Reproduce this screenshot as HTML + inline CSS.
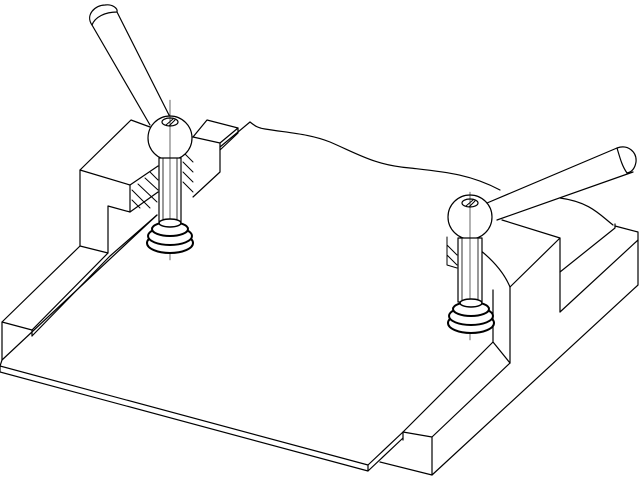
<!DOCTYPE html>
<html><head><style>html,body{margin:0;padding:0;background:#fff;width:640px;height:480px;overflow:hidden}</style></head>
<body>
<svg width="640" height="480" viewBox="0 0 640 480" xmlns="http://www.w3.org/2000/svg" fill="none" stroke="#000" stroke-width="1.2" stroke-linejoin="round" stroke-linecap="round">
<!-- sheet -->
<path d="M250,122 C255,126 258,128 265,129 C290,133 310,134 330,142 C360,155 375,165 410,168 C445,172 470,174 500,190" />
<path d="M560,198 C590,202 600,215 613,225" />
<path d="M250,122 L220,147" />
<path d="M157,215 L2,360 L0,366 L368,465 L368,471 L0,372 L0,366" />
<path d="M368,465 L403,432 L493,342" />
<path d="M368,471 L403,438" />
<!-- left block -->
<path d="M80,170 L131,120 L150,127" />
<path d="M80,170 L130,185 L130,212 L108,206 L108,253 L80,246 Z" />
<path d="M130,185 L158,166" />
<path d="M130,212 L158,192" />
<path d="M80,246 L2,322 L32,330 L108,253" />
<path d="M2,322 L2,360" />
<path d="M32,330 L32,336" />
<path d="M32,336 L110,256 L157,215" />
<!-- hatch left -->
<path d="M132,190 L150,208 M138,184 L157,202 M145,178 L158,190 M132,200 L140,208 M150,172 L158,180" stroke-width="1"/>
<!-- small right block -->
<path d="M193,137 L207,120 L238,128 L220,143 Z" />
<path d="M220,143 L220,172 L193,197" />
<path d="M238,128 L238,133 L220,150" />
<path d="M183,162 L193,172 M183,172 L193,182 M183,182 L193,192 M183,152 L193,162" stroke-width="1"/>
<!-- left handle -->
<path d="M92,25 L150,125 M117,12 L170,117" />
<path d="M92,25 C85,15 95,5 105,5 C112,4 118,8 117,12 M92,25 C95,17 105,12 117,12" />
<!-- left ball -->
<circle cx="170" cy="138" r="22" fill="#fff"/>
<ellipse cx="170" cy="122" rx="8" ry="4" />
<path d="M166,125 L173,119 M169,126 L175,120" stroke-width="1"/>
<rect x="159" y="158" width="22" height="64" fill="#fff"/>
<path d="M163,158 V222 M177,158 V222" stroke-width="0.8"/>
<path d="M170,100 V260" stroke-width="0.6"/>
<!-- left washer -->
<ellipse cx="170" cy="243" rx="23" ry="10" fill="#fff" stroke-width="2"/>
<ellipse cx="170" cy="236" rx="22" ry="9" fill="#fff" stroke-width="2"/>
<ellipse cx="170" cy="229" rx="18" ry="7" fill="#fff" stroke-width="2"/>
<ellipse cx="170" cy="223" rx="11" ry="4" fill="#fff" stroke-width="1.5"/>
<!-- right block -->
<path d="M502,220 L560,238 L560,312" />
<path d="M510,287 L560,238" />
<path d="M510,287 L510,363" />
<path d="M480,250 C495,262 505,275 510,287" />
<path d="M493,290 L493,342 L510,363" />
<path d="M560,272 L615,228 L615,224" />
<path d="M560,312 L638,240" />
<path d="M615,226 L638,232 L638,285 L432,475" />
<path d="M510,363 L432,437" />
<path d="M403,432 L432,437 L432,475 L380,462" />
<path d="M403,432 L403,440" />
<path d="M447,237 L447,265 L457,268 M447,245 L457,255 M447,255 L457,265" stroke-width="1"/>
<!-- right handle -->
<path d="M487,203 L617,148 M497,220 L633,172" />
<path d="M617,148 C628,144 637,152 636,162 C635,168 632,172 627,173 M617,148 C620,158 622,166 627,173" />
<!-- right ball -->
<circle cx="470" cy="217" r="22" fill="#fff"/>
<ellipse cx="470" cy="203" rx="8" ry="4"/>
<path d="M466,206 L473,200 M469,207 L475,201" stroke-width="1"/>
<rect x="458" y="238" width="24" height="64" fill="#fff"/>
<path d="M462,238 V302 M478,238 V302" stroke-width="0.8"/>
<path d="M470,192 V340" stroke-width="0.6"/>
<ellipse cx="471" cy="323" rx="23" ry="10" fill="#fff" stroke-width="2"/>
<ellipse cx="471" cy="316" rx="22" ry="9" fill="#fff" stroke-width="2"/>
<ellipse cx="471" cy="309" rx="18" ry="7" fill="#fff" stroke-width="2"/>
<ellipse cx="471" cy="303" rx="11" ry="4" fill="#fff" stroke-width="1.5"/>
</svg>
</body></html>
